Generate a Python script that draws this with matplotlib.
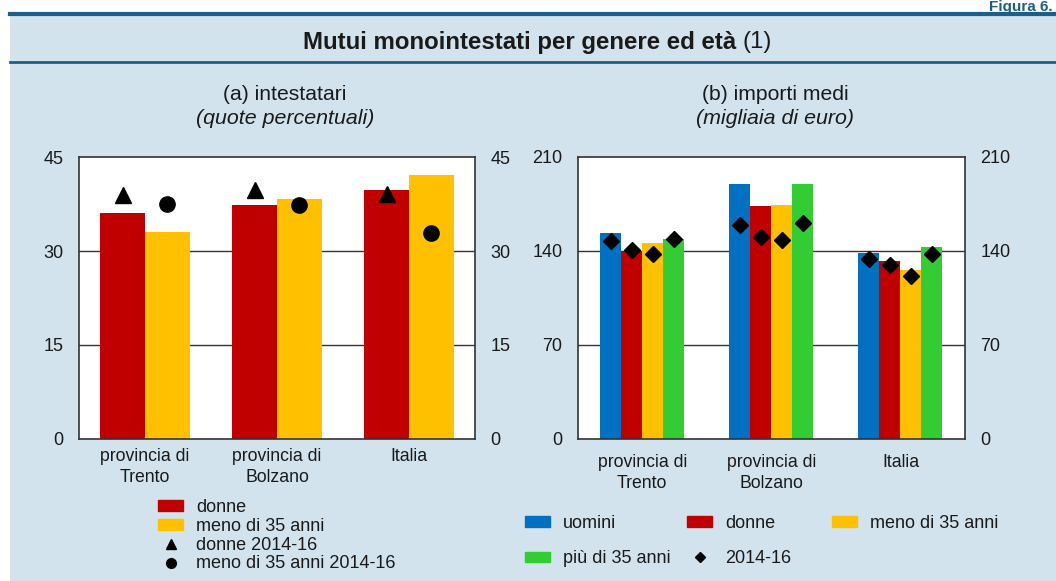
import numpy as np
import matplotlib.pyplot as plt
from matplotlib.patches import Rectangle, Patch
from matplotlib.lines import Line2D

plt.rcParams['font.family'] = ['Liberation Sans', 'DejaVu Sans']

# (a) intestatari, quote percentuali
cat_a = ['provincia di\nTrento', 'provincia di\nBolzano', 'Italia']
donne_a = [36.1, 37.4, 39.8]
meno35_a = [33.1, 38.3, 42.2]
donne_a_1416 = [39.0, 39.7, 39.1]
meno35_a_1416 = [37.6, 37.4, 32.9]

# (b) importi medi, migliaia di euro
cat_b = ['provincia di\nTrento', 'provincia di\nBolzano', 'Italia']
uomini_b = [153.2, 189.7, 138.0]
donne_b = [139.3, 173.3, 132.3]
meno35_b = [145.7, 174.0, 125.6]
piu35_b = [148.7, 189.7, 142.7]
# 2014-16 values, one row per area: uomini, donne, meno di 35, più di 35
tot_b_1416 = [[147.2, 140.5, 137.3, 148.9],
              [159.0, 150.2, 148.0, 160.4],
              [134.0, 129.1, 120.9, 137.8]]

BLUE = '#0070c0'
RED = '#c00000'
YELLOW = '#ffc000'
GREEN = '#33cc33'
BG = '#d2e3ed'
DARK = '#1b5f8c'
INK = '#1a1a1a'
TICK_FS = 13
CAT_FS = 12.7
LEG_FS = 13
W, H = 1056, 581


def fx(px):
    return px / W


def fy(py):
    return 1 - py / H


fig = plt.figure(figsize=(W / 100, H / 100), dpi=100)
fig.patch.set_facecolor('white')
fig.patches.append(Rectangle((fx(10), 0), 1, fy(13), transform=fig.transFigure,
                             facecolor=BG, edgecolor='none', zorder=-10))
fig.lines.append(Line2D([fx(10), 1], [fy(14)] * 2, transform=fig.transFigure,
                        color=DARK, lw=3, zorder=-5))
fig.lines.append(Line2D([fx(10), 1], [fy(62)] * 2, transform=fig.transFigure,
                        color=DARK, lw=2, zorder=-5))
fig.text(fx(1053), 1.0, 'Figura 6.', ha='right', va='top', fontsize=11,
         fontweight='bold', color=DARK)


def style_axes(ax, ymax, step):
    ax.set_facecolor('white')
    ax.set_ylim(0, ymax)
    ax.set_yticks(np.arange(0, ymax + 1, step))
    ax.tick_params(length=0, labelsize=TICK_FS, pad=11, labelcolor=INK)
    for s in ax.spines.values():
        s.set_color('#333333')
        s.set_linewidth(1.2)
    for y in np.arange(step, ymax, step):
        ax.axhline(y, color='#333333', lw=1, zorder=1)
    twin = ax.twinx()
    twin.set_ylim(0, ymax)
    twin.set_yticks(np.arange(0, ymax + 1, step))
    twin.tick_params(length=0, labelsize=TICK_FS, pad=11, labelcolor=INK)
    for s in twin.spines.values():
        s.set_visible(False)


def add_legend(handles, labels, x_px, y_px, spacing):
    leg = fig.legend(handles, labels, loc='upper left', bbox_to_anchor=(fx(x_px), fy(y_px)),
                     frameon=False, fontsize=LEG_FS, handlelength=1.4, handleheight=0.5,
                     handletextpad=0.7, labelspacing=spacing, borderaxespad=0,
                     borderpad=0, labelcolor=INK)
    return leg


# panel (a)
ax1 = fig.add_axes([fx(79), fy(438.7), 396 / W, 281.4 / H])
style_axes(ax1, 45, 15)
x = np.arange(len(cat_a))
w = 0.34
ax1.bar(x - w / 2, donne_a, w, color=RED, zorder=2)
ax1.bar(x + w / 2, meno35_a, w, color=YELLOW, zorder=2)
ax1.plot(x - w / 2, donne_a_1416, ls='none', marker='^', ms=11, color='black', zorder=3)
ax1.plot(x + w / 2, meno35_a_1416, ls='none', marker='o', ms=11, color='black', zorder=3)
ax1.set_xlim(-0.5, 2.5)
ax1.set_xticks(x)
ax1.set_xticklabels(cat_a, fontsize=CAT_FS, color=INK, linespacing=1.3)
ax1.tick_params(axis='x', pad=7)
add_legend([Patch(color=RED), Patch(color=YELLOW),
            Line2D([], [], ls='none', marker='^', ms=7, color='black'),
            Line2D([], [], ls='none', marker='o', ms=7, color='black')],
           ['donne', 'meno di 35 anni', 'donne 2014-16', 'meno di 35 anni 2014-16'],
           158, 499, 0.1)
fig.text(fx(285), fy(94), '(a) intestatari', ha='center', va='center', fontsize=15.2,
         color=INK)
fig.text(fx(285), fy(118), '(quote percentuali)', ha='center', va='center',
         fontsize=15.4, style='italic', color=INK)

# panel (b)
ax2 = fig.add_axes([fx(577.7), fy(438.7), 387.3 / W, 282 / H])
style_axes(ax2, 210, 70)
xb = np.arange(len(cat_b))
wb = 0.1625
series = [(uomini_b, BLUE), (donne_b, RED), (meno35_b, YELLOW), (piu35_b, GREEN)]
for i, (vals, col) in enumerate(series):
    off = (i - 1.5) * wb
    ax2.bar(xb + off, vals, wb, color=col, zorder=2)
    ax2.plot(xb + off, [row[i] for row in tot_b_1416], ls='none', marker='D', ms=8,
             color='black', zorder=3)
ax2.set_xlim(-0.5, 2.5)
ax2.set_xticks(xb)
ax2.set_xticklabels(cat_b, fontsize=CAT_FS, color=INK, linespacing=1.3)
ax2.tick_params(axis='x', pad=11)

diamond = Line2D([], [], ls='none', marker='D', ms=5, color='black')
add_legend([Patch(color=BLUE), Patch(color=GREEN)], ['uomini', 'più di 35 anni'],
           525, 515, 1.0)
add_legend([Patch(color=RED), diamond], ['donne', '2014-16'], 687, 515, 1.0)
add_legend([Patch(color=YELLOW)], ['meno di 35 anni'], 832, 515, 1.0)
fig.text(fx(775), fy(94), '(b) importi medi', ha='center', va='center', fontsize=15.2,
         color=INK)
fig.text(fx(775), fy(118), '(migliaia di euro)', ha='center', va='center',
         fontsize=15.4, style='italic', color=INK)

# title: bold part followed by the regular note mark
tb = fig.text(fx(303), fy(42), 'Mutui monointestati per genere ed età', ha='left',
              va='center', fontsize=17.3, fontweight='bold', color=INK)
fig.canvas.draw()
bb = tb.get_window_extent().transformed(fig.transFigure.inverted())
fig.text(bb.x1 + fx(6), fy(42), '(1)', ha='left', va='center', fontsize=17.3, color=INK)

fig.savefig('out.png', dpi=100, facecolor=fig.get_facecolor())
